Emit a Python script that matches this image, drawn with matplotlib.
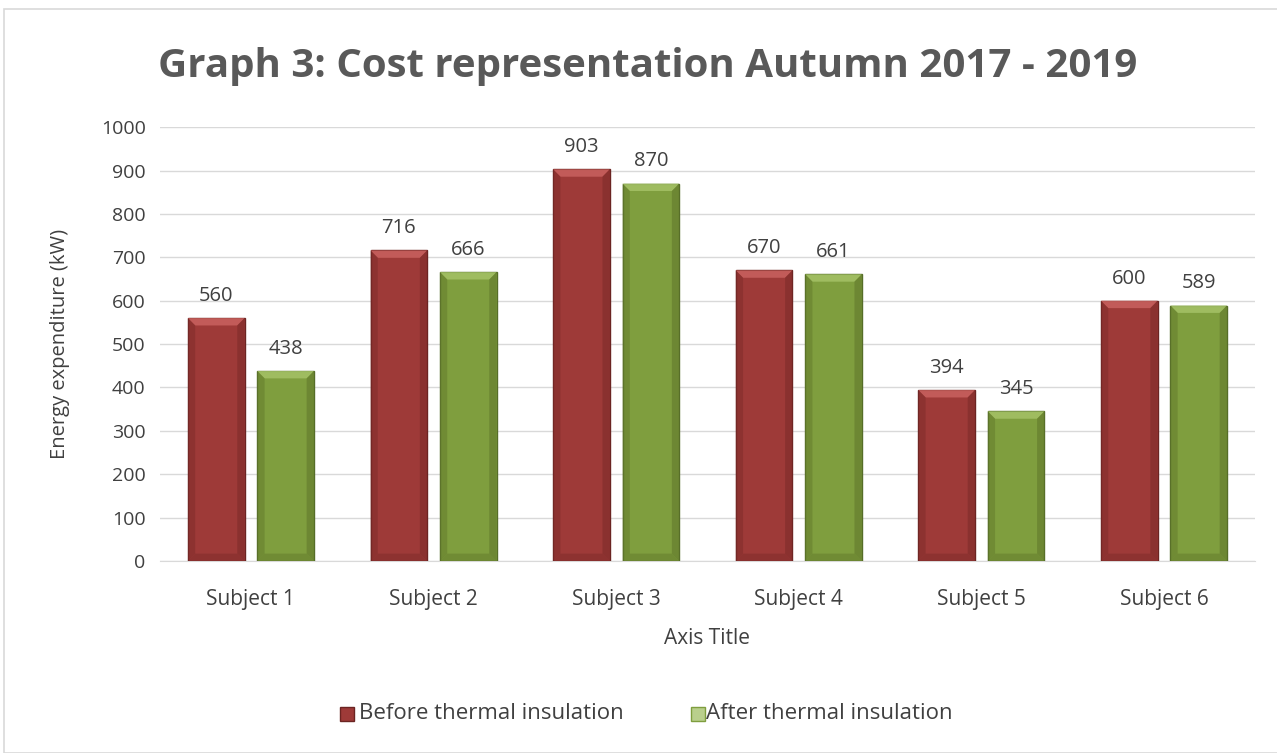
import matplotlib
matplotlib.use('Agg')
import matplotlib.pyplot as plt
import numpy as np
from matplotlib.patches import Rectangle, Polygon

# values
subjects = ['Subject 1', 'Subject 2', 'Subject 3', 'Subject 4', 'Subject 5', 'Subject 6']
before = [560, 716, 903, 670, 394, 600]
after = [438, 666, 870, 661, 345, 589]

plt.rcParams['font.family'] = ['Open Sans', 'DejaVu Sans']
txt = '#404040'

fig = plt.figure(figsize=(12.77, 7.53), dpi=100)
ax = fig.add_axes([0.125, 0.255, 0.858, 0.576])

# light frame around the chart
fig.patches.append(Rectangle((0.003, 0.0), 1.0, 0.988, transform=fig.transFigure,
                             fill=False, edgecolor='#d9d9d9', lw=1.2))

x = np.arange(len(subjects))
w = 0.31
off = 0.19
b1 = ax.bar(x - off, before, w, color='#9e3a38', edgecolor='#6b2422', lw=1.0, zorder=3)
b2 = ax.bar(x + off, after, w, color='#7f9e3e', edgecolor='#566d28', lw=1.0, zorder=3)


def bevel(bars, light, dark):
    # fake the excel bevel: light top edge, darker sides and bottom
    dx, dy = 0.04, 17
    for r in bars:
        x0, w0, h = r.get_x(), r.get_width(), r.get_height()
        x1 = x0 + w0
        shapes = [
            ([(x0, h), (x1, h), (x1 - dx, h - dy), (x0 + dx, h - dy)], light, 0.85),
            ([(x0, 0), (x0, h), (x0 + dx, h - dy), (x0 + dx, dy)], dark, 0.5),
            ([(x1, 0), (x1, h), (x1 - dx, h - dy), (x1 - dx, dy)], dark, 0.6),
            ([(x0, 0), (x1, 0), (x1 - dx, dy), (x0 + dx, dy)], dark, 0.5),
        ]
        for pts, c, a in shapes:
            ax.add_patch(Polygon(pts, closed=True, facecolor=c, edgecolor='none',
                                 alpha=a, zorder=3.5))


bevel(b1, '#c9625f', '#7e2c2a')
bevel(b2, '#a5c267', '#62792c')

for i in range(len(subjects)):
    ax.text(x[i] - off, before[i] + 28, str(before[i]), ha='center', va='bottom',
            fontsize=14.5, color=txt)
    ax.text(x[i] + off, after[i] + 28, str(after[i]), ha='center', va='bottom',
            fontsize=14.5, color=txt)

ax.set_xlim(-0.5, 5.5)
ax.set_ylim(0, 1000)
ax.set_yticks(range(0, 1001, 100))
ax.set_xticks(x)
ax.set_xticklabels(subjects)
ax.tick_params(axis='y', length=0, labelsize=14, colors=txt, pad=10)
ax.tick_params(axis='x', length=0, labelsize=15, colors=txt, pad=20)
ax.grid(axis='y', color='#d9d9d9', lw=1, zorder=0)
for s in ['top', 'right', 'left']:
    ax.spines[s].set_visible(False)
ax.spines['bottom'].set_color('#d9d9d9')

ax.set_xlabel('Axis Title', fontsize=15, color=txt, labelpad=13)
ax.set_ylabel('Energy expenditure (kW)', fontsize=14.5, color=txt, labelpad=22)

fig.text(0.507, 0.912, 'Graph 3: Cost representation Autumn 2017 - 2019', ha='center',
         va='center', fontsize=29, fontweight='bold', color='#595959')

# legend
fig.patches.append(Rectangle((0.266, 0.042), 0.011, 0.019, transform=fig.transFigure,
                             facecolor='#9e3a38', edgecolor='#6b2422'))
fig.text(0.281, 0.052, 'Before thermal insulation', va='center', fontsize=16, color=txt)
fig.patches.append(Rectangle((0.541, 0.042), 0.011, 0.019, transform=fig.transFigure,
                             facecolor='#b9cf8c', edgecolor='#7f9e3e'))
fig.text(0.553, 0.052, 'After thermal insulation', va='center', fontsize=16, color=txt)

fig.savefig('out.png', dpi=100, facecolor='white')
